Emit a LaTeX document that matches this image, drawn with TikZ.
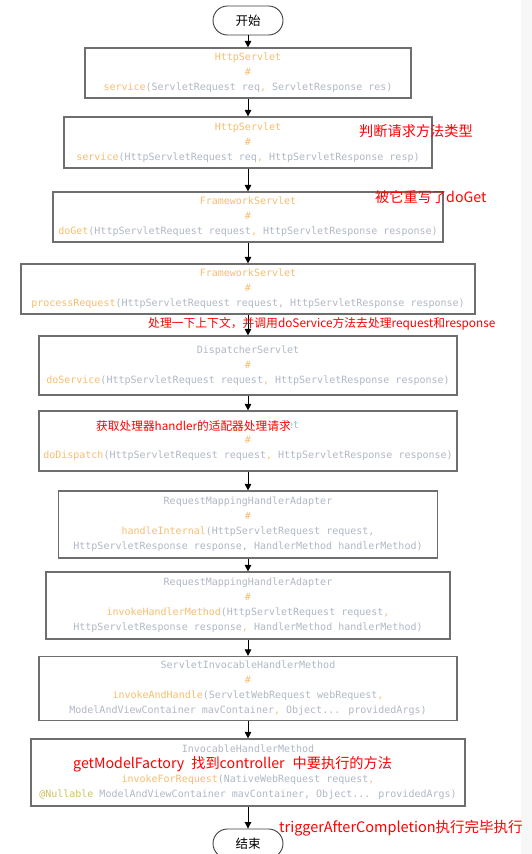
\documentclass[tikz,border=0pt]{standalone}
\usepackage{fontspec}
\usetikzlibrary{arrows.meta,shapes.misc}
\newfontfamily\cjk{Noto Sans CJK SC}
\newfontfamily\codefont{DejaVu Sans Mono}
\definecolor{codeor}{RGB}{247,190,112}
\definecolor{codegr}{RGB}{176,184,198}
\definecolor{nullab}{RGB}{204,196,96}
\definecolor{boxline}{RGB}{110,110,110}
\definecolor{strip}{RGB}{247,247,247}
\newcommand\mOr[1]{\textcolor{codeor}{#1}}
\begin{document}
\begin{tikzpicture}[x=1pt,y=-1pt,
  codebox/.style={draw=boxline, line width=1.2pt, fill=white, inner sep=0pt, align=center,
    font=\codefont\fontsize{10}{15}\selectfont, text=codegr},
  term/.style={draw=black!75, line width=0.9pt, rounded rectangle, minimum width=70pt,
    minimum height=29pt, inner sep=0pt, font=\cjk\fontsize{12.5}{14}\selectfont},
  flow/.style={draw=black, line width=0.9pt, -{Triangle[width=6.5pt,length=6.5pt]}},
  note/.style={text=red, inner sep=0pt, anchor=west}]
\fill[white] (0,0) rectangle (532,854);
\fill[strip] (521,0) rectangle (532,854);
\useasboundingbox (0,0) rectangle (532,854);

\node[term] (start) at (248,20.5) {开始};

\node[codebox, minimum width=326pt, minimum height=50pt] (b1) at (248,73)
  {\mOr{HttpServlet}\\\mOr{\#}\\\mOr{service}(ServletRequest req\mOr{,} ServletResponse res)};
\node[codebox, minimum width=368pt, minimum height=51pt] (b2) at (248,142.5)
  {\mOr{HttpServlet}\\\mOr{\#}\\\mOr{service}(HttpServletRequest req\mOr{,} HttpServletResponse resp)};
\node[codebox, minimum width=390pt, minimum height=50pt] (b3) at (248,217)
  {\mOr{FrameworkServlet}\\\mOr{\#}\\\mOr{doGet}(HttpServletRequest request\mOr{,} HttpServletResponse response)};
\node[codebox, minimum width=454pt, minimum height=50pt] (b4) at (248,289)
  {\mOr{FrameworkServlet}\\\mOr{\#}\\\mOr{processRequest}(HttpServletRequest request, HttpServletResponse response)};
\node[codebox, minimum width=418pt, minimum height=59pt] (b5) at (248,365.5)
  {DispatcherServlet\\\mOr{\#}\\\mOr{doService}(HttpServletRequest request\mOr{,} HttpServletResponse response)};
\node[codebox, minimum width=418pt, minimum height=60pt] (b6) at (248,441)
  {DispatcherServlet\\\mOr{\#}\\\mOr{doDispatch}(HttpServletRequest request\mOr{,} HttpServletResponse response)};
\node[codebox, minimum width=379pt, minimum height=67pt] (b7) at (248,524.5)
  {RequestMappingHandlerAdapter\\\mOr{\#}\\\mOr{handleInternal}(HttpServletRequest request,\\HttpServletResponse response, HandlerMethod handlerMethod)};
\node[codebox, minimum width=404pt, minimum height=67pt] (b8) at (248,605.5)
  {RequestMappingHandlerAdapter\\\mOr{\#}\\\mOr{invokeHandlerMethod}(HttpServletRequest request\mOr{,}\\HttpServletResponse response\mOr{,} HandlerMethod handlerMethod)};
\node[codebox, minimum width=418pt, minimum height=64pt] (b9) at (248,688.5)
  {ServletInvocableHandlerMethod\\\mOr{\#}\\\mOr{invokeAndHandle}(ServletWebRequest webRequest\mOr{,}\\ModelAndViewContainer mavContainer\mOr{,} Object... providedArgs)};
\node[codebox, minimum width=434pt, minimum height=67pt] (b10) at (248,772.5)
  {InvocableHandlerMethod\\\mOr{\#}\\\mOr{invokeForRequest}(NativeWebRequest request\mOr{,}\\\textcolor{nullab}{@Nullable} ModelAndViewContainer mavContainer, Object... providedArgs)};

\node[term] (end) at (248,843.5) {结束};

\draw[flow] (start.south) -- (b1.north);
\draw[flow] (b1.south) -- (b2.north);
\draw[flow] (b2.south) -- (b3.north);
\draw[flow] (b3.south) -- (b4.north);
\draw[flow] (b4.south) -- (b5.north);
\draw[flow] (b5.south) -- (b6.north);
\draw[flow] (b6.south) -- (b7.north);
\draw[flow] (b7.south) -- (b8.north);
\draw[flow] (b8.south) -- (b9.north);
\draw[flow] (b9.south) -- (b10.north);
\draw[flow] (b10.south) -- (end.north);

\node[note, font=\cjk\fontsize{14.2}{16}\selectfont] (n1) at (359,131) {判断请求方法类型};
\node[note, font=\cjk\fontsize{14.2}{16}\selectfont] (n2) at (375,197) {被它重写了doGet};
\node[note, font=\cjk\fontsize{11.8}{13}\selectfont] (n3) at (148,324) {处理一下上下文，并调用doService方法去处理request和response};
\node[note, fill=white, font=\cjk\fontsize{11.7}{13}\selectfont] (n4) at (96,426) {获取处理器handler的适配器处理请求};
\node[note, fill=white, font=\cjk\fontsize{14.2}{16}\selectfont] (n5) at (73,764) {getModelFactory\hspace{7pt}找到controller\hspace{8pt}中要执行的方法};
\node[note, font=\cjk\fontsize{14.5}{16}\selectfont] (n6) at (279,828) {triggerAfterCompletion执行完毕执行};
\end{tikzpicture}
\end{document}
